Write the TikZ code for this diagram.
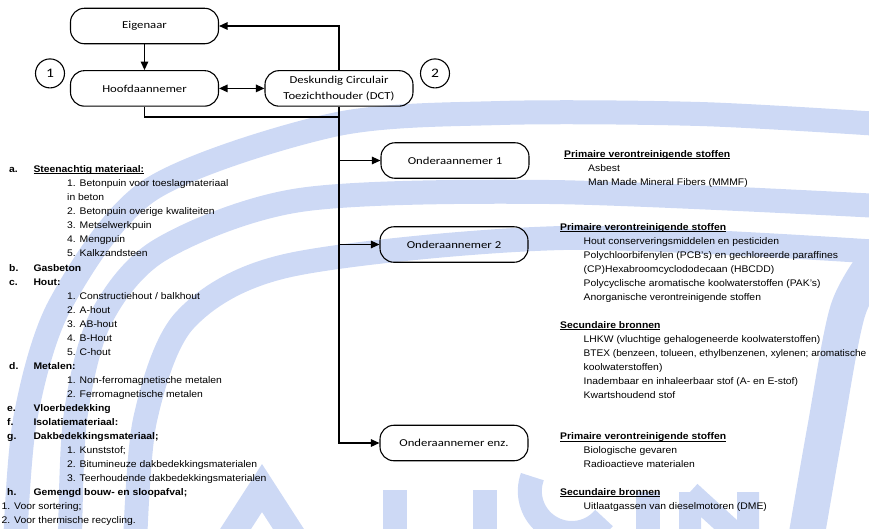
\documentclass[tikz,border=0pt]{standalone}
\usepackage{fontspec}
\setmainfont{Liberation Sans}[FakeStretch=1.08]
\newfontfamily\boxfont{Carlito}[FakeStretch=1.2]
\newcommand\myul[1]{\setbox0\hbox{#1}\rlap{\rule[-1.4pt]{\wd0}{0.65pt}}\box0}
\usetikzlibrary{arrows.meta}
\definecolor{wmblue}{RGB}{205,217,245}
\tikzset{
 box/.style={draw,line width=1.1pt,rounded corners=14pt,minimum width=148pt,minimum height=35.5pt,inner sep=0pt,align=center,font=\boxfont\fontsize{10.6}{16.5}\selectfont},
 num/.style={draw,circle,line width=1.1pt,minimum size=29pt,inner sep=0pt,font=\boxfont\fontsize{13}{13}\selectfont},
 conn/.style={line width=1.25pt},
 arr/.style={conn,-{Triangle[length=8.5pt,width=7.5pt]}},
 darr/.style={conn,{Triangle[length=8.5pt,width=7.5pt]}-{Triangle[length=8.5pt,width=7.5pt]}},
 txt/.style={anchor=base west,inner sep=0pt,font=\fontsize{9.6}{12}\selectfont},
 hd/.style={anchor=base west,inner sep=0pt,font=\fontsize{9.6}{12}\selectfont\bfseries},
 wm/.style={draw=wmblue,line width=24pt},
}
\begin{document}
\begin{tikzpicture}[x=1pt,y=-1pt]
\useasboundingbox (0,0) rectangle (869,528);
% watermark
\begin{scope}
\clip (0,0) rectangle (869,528);
\draw[wm] plot[smooth] coordinates {(15,545) (25,420) (60,305) (150,190) (333,125) (500,113) (700,114) (880,124)};
\draw[wm] plot[smooth] coordinates {(70,545) (75,420) (100,320) (160,250) (300,200) (550,192) (880,206)};
\draw[wm] plot[smooth] coordinates {(135,545) (145,420) (185,320) (290,265) (563,238) (880,252)};
\draw[wm,line width=36pt] plot[smooth] coordinates {(880,255) (848,310) (825,430) (805,545)};
\draw[wm,line width=26pt,line join=miter] (222,550) -- (262,488) -- (302,550);
\draw[wm,line width=24pt] (395,490) -- (395,545) (485,490) -- (485,545);
\draw[wm,line width=24pt] (604,518) arc[start angle=40,end angle=200,x radius=42pt,y radius=-42pt];
\draw[wm,line width=24pt] (648,492) -- (648,545);
\draw[wm,line width=22pt] (690,492) -- (690,545) (690,492) -- (748,545) (748,492) -- (748,545);
\end{scope}
% boxes
\node[box] (eig) at (144.5,26) {Eigenaar};
\node[box] (hoofd) at (144.5,88.4) {Hoofdaannemer};
\node[box] (dct) at (339,88.4) {Deskundig Circulair\\Toezichthouder (DCT)};
\node[num] (n1) at (50,73.4) {1};
\node[num] (n2) at (435,73.4) {2};
\node[box] (ond1) at (455,160.5) {Onderaannemer 1};
\node[box] (ond2) at (454,244.5) {Onderaannemer 2};
\node[box] (ond3) at (454,443) {Onderaannemer enz.};
% connectors
\draw[arr] (eig) -- (hoofd);
\draw[arr] (dct.north) |- (eig.east);
\draw[darr] (hoofd) -- (dct);
\coordinate (jn) at (dct.south |- 0,117);
\draw[conn] (hoofd.south) |- (jn);
\draw[arr] (dct.south) |- (ond3.west);
\draw[arr] (dct.south |- ond1.west) -- (ond1.west);
\draw[arr] (dct.south |- ond2.west) -- (ond2.west);
% left list
\node[hd] (la) at (9,172.7) {a.};
\node[hd] (laa) at (33.3,172.7) {\myul{Steenachtig materiaal:}};
\node[txt] (la1) at (67,186.7) {1. Betonpuin voor toeslagmateriaal};
\node[txt] (la1b) at (67,200.8) {in beton};
\node[txt] (la2) at (67,214.8) {2. Betonpuin overige kwaliteiten};
\node[txt] (la3) at (67,228.9) {3. Metselwerkpuin};
\node[txt] (la4) at (67,242.9) {4. Mengpuin};
\node[txt] (la5) at (67,256.9) {5. Kalkzandsteen};
\node[hd] (lb) at (9,271.0) {b.};
\node[hd] (lbb) at (33.3,271.0) {Gasbeton};
\node[hd] (lc) at (9,285.0) {c.};
\node[hd] (lcc) at (33.3,285.0) {Hout:};
\node[txt] (lc1) at (67,299.1) {1. Constructiehout / balkhout};
\node[txt] (lc2) at (67,313.1) {2. A-hout};
\node[txt] (lc3) at (67,327.1) {3. AB-hout};
\node[txt] (lc4) at (67,341.2) {4. B-Hout};
\node[txt] (lc5) at (67,355.2) {5. C-hout};
\node[hd] (ld) at (9,369.3) {d.};
\node[hd] (ldd) at (33.3,369.3) {Metalen:};
\node[txt] (ld1) at (67,383.3) {1. Non-ferromagnetische metalen};
\node[txt] (ld2) at (67,397.3) {2. Ferromagnetische metalen};
\node[hd] (le) at (7,411.4) {e.};
\node[hd] (lee) at (33.3,411.4) {Vloerbedekking};
\node[hd] (lf) at (7,425.4) {f.};
\node[hd] (lff) at (33.3,425.4) {Isolatiemateriaal:};
\node[hd] (lg) at (7,439.5) {g.};
\node[hd] (lgg) at (33.3,439.5) {Dakbedekkingsmateriaal;};
\node[txt] (lg1) at (67,453.5) {1. Kunststof;};
\node[txt] (lg2) at (67,467.5) {2. Bitumineuze dakbedekkingsmaterialen};
\node[txt] (lg3) at (67,481.6) {3. Teerhoudende dakbedekkingsmaterialen};
\node[hd] (lh) at (7,495.6) {h.};
\node[hd] (lhh) at (33.3,495.6) {Gemengd bouw- en sloopafval;};
\node[txt] (lh1) at (1.5,509.7) {1. Voor sortering;};
\node[txt] (lh2) at (1.5,523.7) {2. Voor thermische recycling.};
% right texts
\node[hd] (r1) at (564,157.6) {\myul{Primaire verontreinigende stoffen}};
\node[txt] (r1a) at (588,171.4) {Asbest};
\node[txt] (r1b) at (588,185.4) {Man Made Mineral Fibers (MMMF)};
\node[hd] (r2) at (560,230.7) {\myul{Primaire verontreinigende stoffen}};
\node[txt] (r2a) at (583.5,244.8) {Hout conserveringsmiddelen en pesticiden};
\node[txt] (r2b) at (583.5,258.6) {Polychloorbifenylen (PCB's) en gechloreerde paraffines};
\node[txt] (r2c) at (583.5,272.8) {(CP)Hexabroomcyclododecaan (HBCDD)};
\node[txt] (r2d) at (583.5,286.9) {Polycyclische aromatische koolwaterstoffen (PAK's)};
\node[txt] (r2e) at (583.5,300.7) {Anorganische verontreinigende stoffen};
\node[hd] (r3) at (560,328.7) {\myul{Secundaire bronnen}};
\node[txt] (r3a) at (583.5,342.4) {LHKW (vluchtige gehalogeneerde koolwaterstoffen)};
\node[txt] (r3b) at (583.5,356.6) {\scalebox{0.975}[1]{BTEX (benzeen, tolueen, ethylbenzenen, xylenen; aromatische}};
\node[txt] (r3c) at (583.5,370.4) {koolwaterstoffen)};
\node[txt] (r3d) at (583.5,384.5) {Inadembaar en inhaleerbaar stof (A- en E-stof)};
\node[txt] (r3e) at (583.5,398.4) {Kwartshoudend stof};
\node[hd] (r4) at (560,439.8) {\myul{Primaire verontreinigende stoffen}};
\node[txt] (r4a) at (583.5,453.6) {Biologische gevaren};
\node[txt] (r4b) at (583.5,467.4) {Radioactieve materialen};
\node[hd] (r5) at (560,495.7) {\myul{Secundaire bronnen}};
\node[txt] (r5a) at (583.5,509.4) {Uitlaatgassen van dieselmotoren (DME)};
\end{tikzpicture}
\end{document}
